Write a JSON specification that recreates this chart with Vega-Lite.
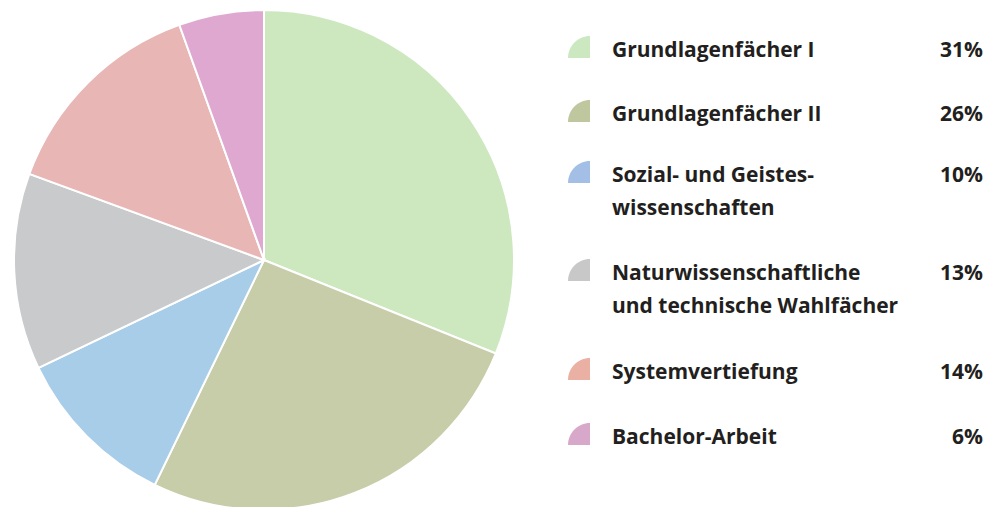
{
  "$schema": "https://vega.github.io/schema/vega-lite/v6.json",
  "padding": 0,
  "autosize": {"type": "pad"},
  "spacing": 0,
  "config": {"view": {"stroke": null}, "background": "white"},
  "data": {"values": [
    {"Kategorie": "Grundlagenfächer I", "Beschriftung": "Grundlagenfächer I", "Anteil": 31.1, "Prozent": "31%", "Rang": 1},
    {"Kategorie": "Grundlagenfächer II", "Beschriftung": "Grundlagenfächer II", "Anteil": 26.1, "Prozent": "26%", "Rang": 2},
    {"Kategorie": "Sozial- und Geisteswissenschaften", "Beschriftung": "Sozial- und Geistes-\nwissenschaften", "Anteil": 10.7, "Prozent": "10%", "Rang": 3},
    {"Kategorie": "Naturwissenschaftliche und technische Wahlfächer", "Beschriftung": "Naturwissenschaftliche\nund technische Wahlfächer", "Anteil": 12.7, "Prozent": "13%", "Rang": 4},
    {"Kategorie": "Systemvertiefung", "Beschriftung": "Systemvertiefung", "Anteil": 13.9, "Prozent": "14%", "Rang": 5},
    {"Kategorie": "Bachelor-Arbeit", "Beschriftung": "Bachelor-Arbeit", "Anteil": 5.5, "Prozent": "6%", "Rang": 6}
  ]},
  "resolve": {"scale": {"color": "independent"}},
  "hconcat": [
    {
      "width": 528,
      "height": 520,
      "mark": {"type": "arc", "outerRadius": 250, "stroke": "white", "strokeWidth": 2},
      "encoding": {
        "theta": {"field": "Anteil", "type": "quantitative", "stack": true},
        "order": {"field": "Rang", "type": "quantitative"},
        "color": {
          "field": "Kategorie", "type": "nominal", "legend": null,
          "scale": {
            "domain": ["Grundlagenfächer I", "Grundlagenfächer II", "Sozial- und Geisteswissenschaften", "Naturwissenschaftliche und technische Wahlfächer", "Systemvertiefung", "Bachelor-Arbeit"],
            "range": ["#cde8bf", "#c8cda9", "#a8cde8", "#c9cacc", "#e8b6b5", "#dea8d0"]
          }
        }
      }
    },
    {
      "width": 458,
      "height": 507,
      "encoding": {
        "y": {"field": "Rang", "type": "quantitative", "axis": null,
          "scale": {"domain": [1, 2, 3, 4, 5, 6], "range": [57, 121, 182, 280, 379, 444], "zero": false, "nice": false}}
      },
      "layer": [
        {
          "mark": {"type": "point", "filled": true, "shape": "M1,1 L-1,1 A2,2 0 0 1 1,-1 Z", "size": 484, "opacity": 1, "yOffset": -10},
          "encoding": {
            "x": {"value": 51},
            "color": {
              "field": "Kategorie", "type": "nominal", "legend": null,
              "scale": {
                "domain": ["Grundlagenfächer I", "Grundlagenfächer II", "Sozial- und Geisteswissenschaften", "Naturwissenschaftliche und technische Wahlfächer", "Systemvertiefung", "Bachelor-Arbeit"],
                "range": ["#cce8c0", "#bfc79f", "#a3bfe6", "#c8c8c8", "#eab0a3", "#d8a8cb"]
              }
            }
          }
        },
        {
          "mark": {"type": "text", "align": "left", "baseline": "alphabetic", "font": "Open Sans", "fontWeight": "bold", "fontSize": 21, "lineBreak": "\n", "lineHeight": 33, "color": "#231f20"},
          "encoding": {"x": {"value": 84}, "text": {"field": "Beschriftung"}}
        },
        {
          "mark": {"type": "text", "align": "right", "baseline": "alphabetic", "font": "Open Sans", "fontWeight": "bold", "fontSize": 21, "color": "#231f20"},
          "encoding": {"x": {"value": 455}, "text": {"field": "Prozent"}}
        }
      ]
    }
  ]
}
